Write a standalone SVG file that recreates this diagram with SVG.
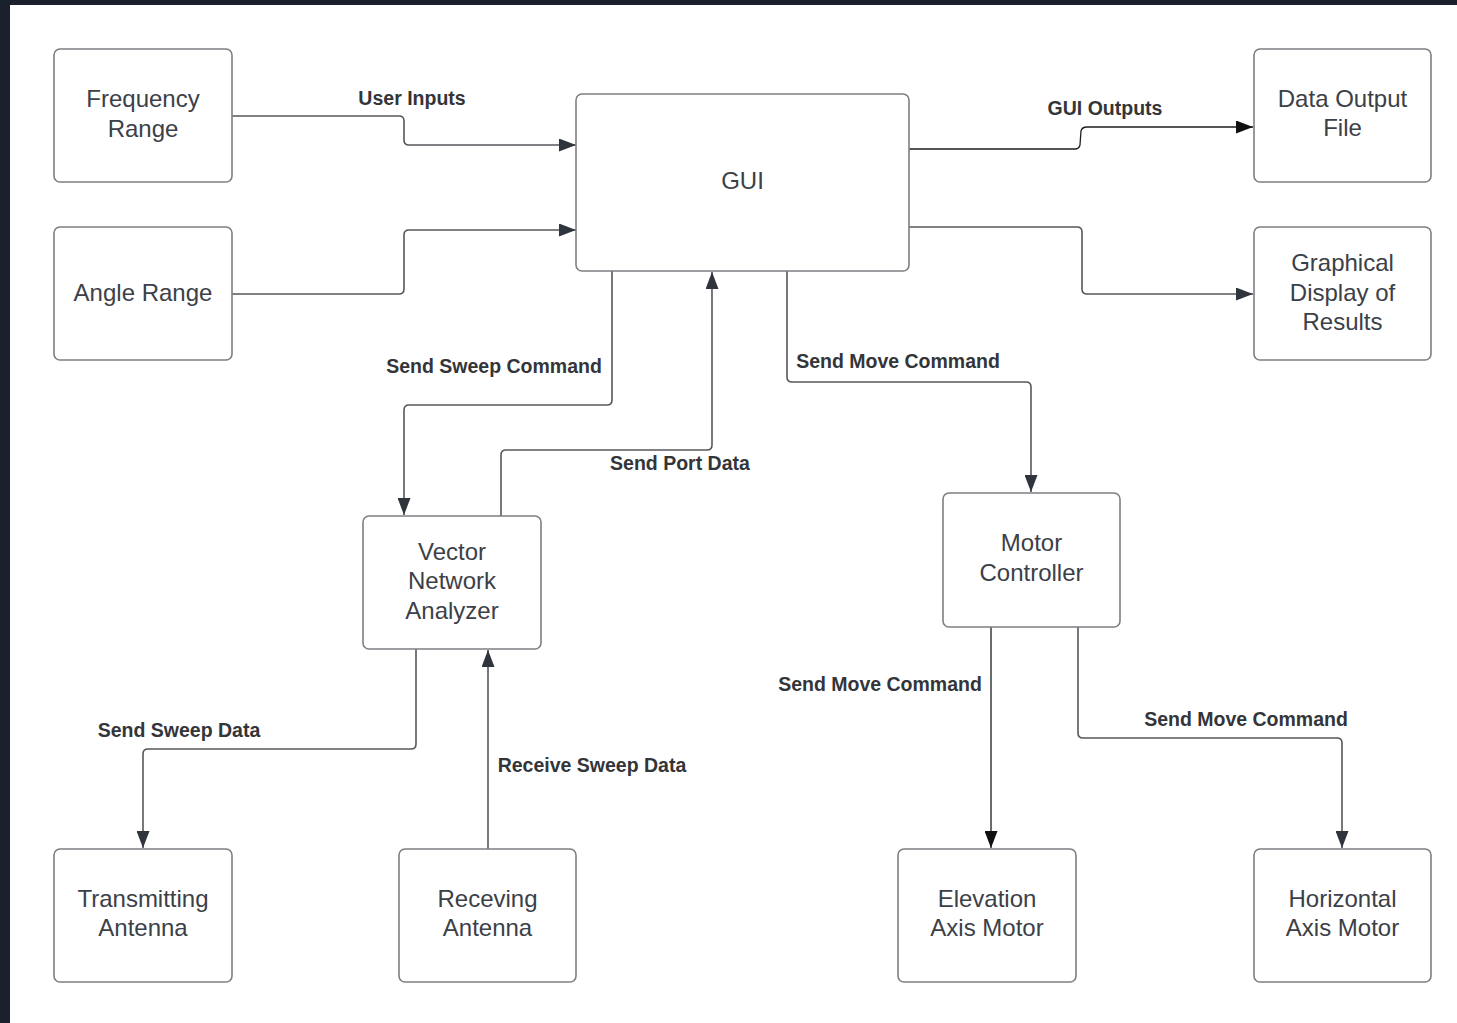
<svg xmlns="http://www.w3.org/2000/svg" width="1457" height="1023" viewBox="0 0 1457 1023">
<style>
.node rect{fill:#ffffff;stroke:#7d7f83;stroke-width:1.6}
.node text{font-family:"Liberation Sans",Arial,sans-serif;font-size:24px;fill:#3c4047;text-anchor:middle}
.conn path{fill:none;stroke:#55585d;stroke-width:1.6}
.conn path.dark{stroke:#1e1e1e;stroke-width:1.3}
.lbl{font-family:"Liberation Sans",Arial,sans-serif;font-size:19.5px;font-weight:bold;fill:#333539;text-anchor:middle}
</style>
<defs>
<marker id="arr" markerUnits="userSpaceOnUse" markerWidth="17" markerHeight="13" refX="17" refY="6.5" orient="auto">
<path d="M0,0 L17,6.5 L0,13 Z" fill="#2f343d"/>
</marker>
<marker id="arrk" markerUnits="userSpaceOnUse" markerWidth="17" markerHeight="13" refX="17" refY="6.5" orient="auto">
<path d="M0,0 L17,6.5 L0,13 Z" fill="#111111"/>
</marker>
</defs>
<rect x="0" y="0" width="1457" height="1023" fill="#ffffff"/>
<rect x="0" y="0" width="1457" height="5" fill="#1b212c"/>
<rect x="0" y="0" width="10" height="1023" fill="#1b212c"/>

<g id="connectors" class="conn">
<path d="M232,116 H399 Q404,116 404,121 V140 Q404,145 409,145 H576" marker-end="url(#arr)"/>
<path d="M232,294 H399 Q404,294 404,289 V235 Q404,230 409,230 H576" marker-end="url(#arr)"/>
<path d="M909,149 H1075 Q1079,149 1080,145 L1081,131 Q1082,127 1087,127 H1253" marker-end="url(#arrk)" class="dark"/>
<path d="M909,227 H1077 Q1082,227 1082,232 V289 Q1082,294 1087,294 H1253" marker-end="url(#arr)"/>
<path d="M612,271 V400 Q612,405 607,405 H409 Q404,405 404,410 V515" marker-end="url(#arr)"/>
<path d="M501,516 V455 Q501,450 506,450 H707 Q712,450 712,445 V272" marker-end="url(#arr)"/>
<path d="M787,271 V377 Q787,382 792,382 H1026 Q1031,382 1031,387 V492" marker-end="url(#arr)"/>
<path class="dark" d="M991,627 V848" marker-end="url(#arrk)"/>
<path d="M1078,627 V733 Q1078,738 1083,738 H1337 Q1342,738 1342,743 V848" marker-end="url(#arr)"/>
<path d="M416,649 V744 Q416,749 411,749 H148 Q143,749 143,754 V848" marker-end="url(#arr)"/>
<path d="M488,849 V650" marker-end="url(#arr)"/>
<text class="lbl" x="412" y="105">User Inputs</text>
<text class="lbl" x="1105" y="115">GUI Outputs</text>
<text class="lbl" x="494" y="373">Send Sweep Command</text>
<text class="lbl" x="680" y="470">Send Port Data</text>
<text class="lbl" x="898" y="368">Send Move Command</text>
<text class="lbl" x="880" y="691">Send Move Command</text>
<text class="lbl" x="1246" y="726">Send Move Command</text>
<text class="lbl" x="179" y="737">Send Sweep Data</text>
<text class="lbl" x="592" y="772">Receive Sweep Data</text>
</g>

<g id="frequency-range" class="node">
<rect x="54" y="49" width="178" height="133" rx="6"/>
<text x="143" y="106.5">Frequency</text>
<text x="143" y="136.5">Range</text>
</g>
<g id="angle-range" class="node">
<rect x="54" y="227" width="178" height="133" rx="6"/>
<text x="143" y="300.5">Angle Range</text>
</g>
<g id="gui" class="node">
<rect x="576" y="94" width="333" height="177" rx="6"/>
<text x="742.5" y="188.5">GUI</text>
</g>
<g id="data-output-file" class="node">
<rect x="1254" y="49" width="177" height="133" rx="6"/>
<text x="1342.5" y="106.5">Data Output</text>
<text x="1342.5" y="135.5">File</text>
</g>
<g id="graphical-display" class="node">
<rect x="1254" y="227" width="177" height="133" rx="6"/>
<text x="1342.5" y="270.5">Graphical</text>
<text x="1342.5" y="300.5">Display of</text>
<text x="1342.5" y="329.5">Results</text>
</g>
<g id="vna" class="node">
<rect x="363" y="516" width="178" height="133" rx="6"/>
<text x="452" y="559.5">Vector</text>
<text x="452" y="588.5">Network</text>
<text x="452" y="618.5">Analyzer</text>
</g>
<g id="motor-controller" class="node">
<rect x="943" y="493" width="177" height="134" rx="6"/>
<text x="1031.5" y="550.5">Motor</text>
<text x="1031.5" y="580.5">Controller</text>
</g>
<g id="transmitting-antenna" class="node">
<rect x="54" y="849" width="178" height="133" rx="6"/>
<text x="143" y="906.5">Transmitting</text>
<text x="143" y="935.5">Antenna</text>
</g>
<g id="receving-antenna" class="node">
<rect x="399" y="849" width="177" height="133" rx="6"/>
<text x="487.5" y="906.5">Receving</text>
<text x="487.5" y="935.5">Antenna</text>
</g>
<g id="elevation-axis-motor" class="node">
<rect x="898" y="849" width="178" height="133" rx="6"/>
<text x="987" y="906.5">Elevation</text>
<text x="987" y="935.5">Axis Motor</text>
</g>
<g id="horizontal-axis-motor" class="node">
<rect x="1254" y="849" width="177" height="133" rx="6"/>
<text x="1342.5" y="906.5">Horizontal</text>
<text x="1342.5" y="935.5">Axis Motor</text>
</g>
</svg>
